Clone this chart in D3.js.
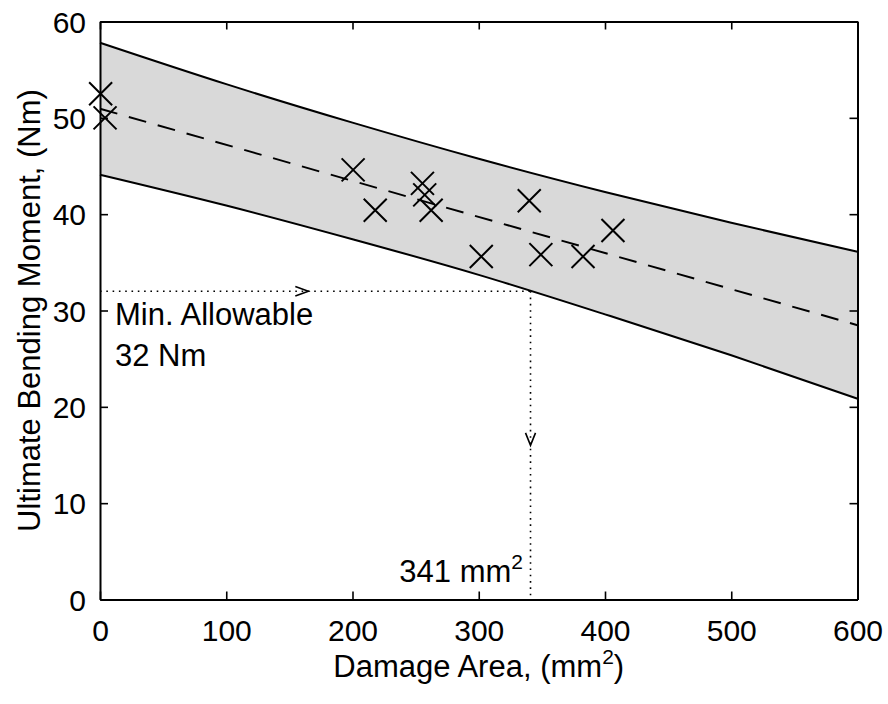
<!DOCTYPE html>
<html>
<head>
<meta charset="utf-8">
<script src="https://cdn.jsdelivr.net/npm/d3@7"></script>
<style>
  html, body { margin: 0; padding: 0; background: #fff; }
  svg { display: block; font-family: "Liberation Sans", Arial, Helvetica, sans-serif; }
</style>
</head>
<body>
<svg id="chart" width="888" height="704"></svg>
<script>
// Measured specimens: damage area vs. ultimate bending moment
const damageArea    = [0.5, 4, 200.5, 218, 255.4, 257.2, 262.3, 302, 340, 349.2, 382.6, 406.3];
const bendingMoment = [52.5, 50.0, 44.6, 40.4, 43.2, 42.0, 40.4, 35.6, 41.4, 35.8, 35.6, 38.3];

// Prediction band (upper / lower bound) and linear fit
const bandArea  = [0, 100, 200, 300, 400, 500, 600];
const bandUpper = [57.8, 53.5, 49.5, 45.75, 42.3, 39.1, 36.1];
const bandLower = [44.1, 40.9, 37.4, 33.7, 29.6, 25.35, 20.85];
const fitArea   = [0, 600];
const fitMoment = [50.95, 28.47];

// Design threshold and resulting critical damage area
const minMoment = 32;
const criticalArea = 341;
const arrowRightAt = 165;   // x of the ">" marker on the threshold line
const arrowDownAt = 16;     // y of the "v" marker on the area line

const xTicks = [0, 100, 200, 300, 400, 500, 600];
const yTicks = [0, 10, 20, 30, 40, 50, 60];

const svg = d3.select("#chart");
const m = { left: 100, top: 21.5, right: 888 - 857.5, bottom: 704 - 599.5 };
const W = 888 - m.left - m.right, H = 704 - m.top - m.bottom;

const x = d3.scaleLinear().domain([0, 600]).range([m.left, m.left + W]);
const y = d3.scaleLinear().domain([0, 60]).range([m.top + H, m.top]);

const g = svg.append("g");

// shaded band
const bandData = bandArea.map((a, i) => ({ a, u: bandUpper[i], l: bandLower[i] }));
g.append("path")
  .datum(bandData)
  .attr("fill", "#d9d9d9")
  .attr("d", d3.area().x(d => x(d.a)).y0(d => y(d.l)).y1(d => y(d.u)).curve(d3.curveNatural));

["u", "l"].forEach(k => {
  g.append("path")
    .datum(bandData)
    .attr("fill", "none").attr("stroke", "#000").attr("stroke-width", 2)
    .attr("d", d3.line().x(d => x(d.a)).y(d => y(d[k])).curve(d3.curveNatural));
});

// fitted line
g.append("path")
  .datum(fitArea.map((a, i) => [a, fitMoment[i]]))
  .attr("fill", "none").attr("stroke", "#000").attr("stroke-width", 2)
  .attr("stroke-dasharray", "18,12")
  .attr("d", d3.line().x(d => x(d[0])).y(d => y(d[1])));

// threshold guide lines
g.append("line")
  .attr("x1", x(0)).attr("x2", x(criticalArea))
  .attr("y1", y(minMoment)).attr("y2", y(minMoment))
  .attr("stroke", "#000").attr("stroke-width", 1.6).attr("stroke-dasharray", "1.6,4.7");
g.append("line")
  .attr("x1", x(criticalArea)).attr("x2", x(criticalArea))
  .attr("y1", y(minMoment)).attr("y2", y(0))
  .attr("stroke", "#000").attr("stroke-width", 1.6).attr("stroke-dasharray", "1.6,4.7");

// arrow markers
const ax = x(arrowRightAt), ay = y(minMoment);
g.append("path")
  .attr("d", `M${ax - 13},${ay - 4.7}L${ax},${ay}L${ax - 13},${ay + 4.7}`)
  .attr("fill", "none").attr("stroke", "#000").attr("stroke-width", 1.6);
const vx = x(criticalArea), vy = y(arrowDownAt);
g.append("path")
  .attr("d", `M${vx - 5},${vy - 12.5}L${vx},${vy}L${vx + 5},${vy - 12.5}`)
  .attr("fill", "none").attr("stroke", "#000").attr("stroke-width", 1.6);

// data markers (x)
const r = 11.5;
g.append("g").selectAll("path")
  .data(damageArea.map((a, i) => [a, bendingMoment[i]]))
  .join("path")
  .attr("d", d => {
    const cx = x(d[0]), cy = y(d[1]);
    return `M${cx - r},${cy - r}L${cx + r},${cy + r}M${cx - r},${cy + r}L${cx + r},${cy - r}`;
  })
  .attr("fill", "none").attr("stroke", "#000").attr("stroke-width", 2);

// axes box with inward ticks
const tickLen = 8;
const axisStyle = sel => {
  sel.select(".domain").attr("stroke", "#000").attr("stroke-width", 2);
  sel.selectAll(".tick line").attr("stroke", "#000").attr("stroke-width", 1.6);
};
const axBottom = svg.append("g").attr("transform", `translate(0,${m.top + H})`)
  .call(d3.axisBottom(x).tickValues(xTicks).tickSizeInner(-tickLen).tickSizeOuter(0).tickPadding(20));
const axTop = svg.append("g").attr("transform", `translate(0,${m.top})`)
  .call(d3.axisTop(x).tickValues(xTicks).tickSizeInner(-tickLen).tickSizeOuter(0).tickFormat(""));
const axLeft = svg.append("g").attr("transform", `translate(${m.left},0)`)
  .call(d3.axisLeft(y).tickValues(yTicks).tickSizeInner(-tickLen).tickSizeOuter(0).tickPadding(14));
const axRight = svg.append("g").attr("transform", `translate(${m.left + W},0)`)
  .call(d3.axisRight(y).tickValues(yTicks).tickSizeInner(-tickLen).tickSizeOuter(0).tickFormat(""));
[axBottom, axTop, axLeft, axRight].forEach(axisStyle);
[axBottom, axLeft].forEach(a => a.selectAll(".tick text")
  .attr("font-size", 30).attr("font-family", "Liberation Sans, Arial, sans-serif").attr("fill", "#000"));
axBottom.selectAll(".tick text").attr("dy", "0.71em");
axLeft.selectAll(".tick text").attr("dy", "0.36em");

// axis titles
const xt = svg.append("text")
  .attr("x", m.left + W / 2).attr("y", 677)
  .attr("text-anchor", "middle").attr("font-size", 31).attr("fill", "#000");
xt.append("tspan").text("Damage Area, (mm");
xt.append("tspan").attr("font-size", 21).attr("dy", -13).text("2");
xt.append("tspan").attr("dy", 13).text(")");

svg.append("text")
  .attr("transform", `translate(40,${m.top + H / 2}) rotate(-90)`)
  .attr("text-anchor", "middle").attr("font-size", 31).attr("fill", "#000")
  .text("Ultimate Bending Moment, (Nm)");

// annotations
svg.append("text").attr("x", 115).attr("y", 325).attr("font-size", 31).attr("fill", "#000")
  .text("Min. Allowable");
svg.append("text").attr("x", 115).attr("y", 366).attr("font-size", 31).attr("fill", "#000")
  .text(`${minMoment} Nm`);
const ca = svg.append("text").attr("x", 523).attr("y", 582)
  .attr("text-anchor", "end").attr("font-size", 31).attr("fill", "#000");
ca.append("tspan").text(`${criticalArea} mm`);
ca.append("tspan").attr("font-size", 21).attr("dy", -13).text("2");
</script>
</body>
</html>
